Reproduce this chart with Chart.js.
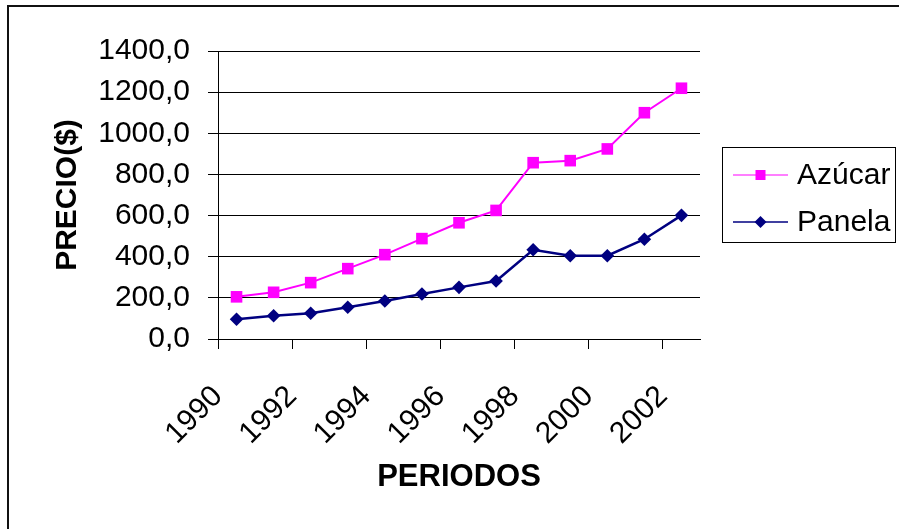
<!DOCTYPE html>
<html>
<head>
<meta charset="utf-8">
<script src="https://cdn.jsdelivr.net/npm/chart.js@4.4.1/dist/chart.umd.min.js"></script>
<style>
  html, body { margin: 0; padding: 0; background: #fff; }
  #wrap { position: relative; width: 899px; height: 529px; overflow: hidden; }
  #frame { position: absolute; left: 7px; top: 5px; width: 900px; height: 530px;
           border-left: 2px solid #111; border-top: 2px solid #111; box-sizing: border-box; }
  canvas { position: absolute; left: 0; top: 0; }
</style>
</head>
<body>
<div id="wrap">
  <div id="frame"></div>
  <canvas id="c" width="899" height="529"></canvas>
</div>
<script>
const categories = ['1990','1991','1992','1993','1994','1995','1996','1997','1998','1999','2000','2001','2002'];
const xTickLabels = ['1990','1992','1994','1996','1998','2000','2002'];
const azucar = [205, 227, 274, 342, 410, 488, 565, 625, 857, 867, 924, 1100, 1219];
const panela = [96, 113, 125, 154, 185, 219, 251, 282, 434, 405, 405, 485, 601];
const yTicks = [0, 200, 400, 600, 800, 1000, 1200, 1400];

const FONT = 'Liberation Sans, Arial, Helvetica, sans-serif';

const toPoints = arr => arr.map((v, i) => ({ x: i + 0.5, y: v }));

const legendPlugin = {
  id: 'boxLegend',
  afterDraw(chart) {
    const ctx = chart.ctx;
    ctx.save();
    ctx.strokeStyle = '#000';
    ctx.lineWidth = 1;
    ctx.strokeRect(722.5, 147.5, 173, 95);
    chart.data.datasets.forEach((ds, i) => {
      const y = 175 + i * 47;
      ctx.strokeStyle = ds.borderColor;
      ctx.lineWidth = i === 0 ? 1.2 : 1.6;
      ctx.beginPath(); ctx.moveTo(733, y); ctx.lineTo(788, y); ctx.stroke();
      ctx.fillStyle = ds.backgroundColor;
      const cx = 760.5;
      if (ds.pointStyle === 'rect') {
        ctx.fillRect(cx - 5, y - 5, 10, 10);
      } else {
        ctx.beginPath();
        ctx.moveTo(cx - 6, y); ctx.lineTo(cx, y - 6); ctx.lineTo(cx + 6, y); ctx.lineTo(cx, y + 6);
        ctx.closePath(); ctx.fill();
      }
      ctx.fillStyle = '#000';
      ctx.font = '30px ' + FONT;
      ctx.textAlign = 'left';
      ctx.textBaseline = 'middle';
      ctx.fillText(ds.label, 797, y + 1);
    });
    ctx.restore();
  }
};

new Chart(document.getElementById('c'), {
  type: 'line',
  data: {
    datasets: [
      { label: 'Azúcar', data: toPoints(azucar), borderColor: '#FF00FF', backgroundColor: '#FF00FF',
        borderWidth: 2, pointStyle: 'rect', pointRadius: 8.2, pointBorderWidth: 0, tension: 0 },
      { label: 'Panela', data: toPoints(panela), borderColor: '#000080', backgroundColor: '#000080',
        borderWidth: 2.5, pointStyle: 'rectRot', pointRadius: 6.8, pointBorderWidth: 0, tension: 0 }
    ]
  },
  options: {
    responsive: false,
    animation: false,
    devicePixelRatio: 1,
    layout: { padding: { top: 51, right: 199, bottom: 0, left: 0 } },
    plugins: { legend: { display: false }, tooltip: { enabled: false } },
    scales: {
      x: {
        type: 'linear',
        min: 0, max: categories.length,
        afterBuildTicks: s => { s.ticks = xTickLabels.map(l => ({ value: categories.indexOf(l) })); },
        afterFit: s => { s.height = 190; },
        ticks: {
          callback: v => categories[v],
          minRotation: 45, maxRotation: 45, autoSkip: false,
          color: '#000', font: { family: FONT, size: 30 }, padding: 30
        },
        grid: { drawOnChartArea: false, drawTicks: true, tickLength: 10, color: '#000', lineWidth: 1 },
        border: { color: '#000', width: 1 },
        title: { display: true, text: 'PERIODOS', color: '#000',
                 font: { family: FONT, size: 31, weight: 'bold' }, padding: { top: 0, bottom: 33 } }
      },
      y: {
        min: 0, max: 1400,
        afterBuildTicks: s => { s.ticks = yTicks.map(v => ({ value: v })); },
        afterFit: s => { s.width = 218; },
        ticks: {
          callback: v => v.toFixed(1).replace('.', ','),
          color: '#000', font: { family: FONT, size: 30 }, padding: 18
        },
        grid: { color: '#000', lineWidth: 1, tickLength: 10, drawTicks: true },
        border: { color: '#000', width: 1 },
        title: { display: true, text: 'PRECIO($)', color: '#000',
                 font: { family: FONT, size: 30, weight: 'bold' }, padding: { top: 50, bottom: 0 } }
      }
    }
  },
  plugins: [legendPlugin]
});
</script>
</body>
</html>
